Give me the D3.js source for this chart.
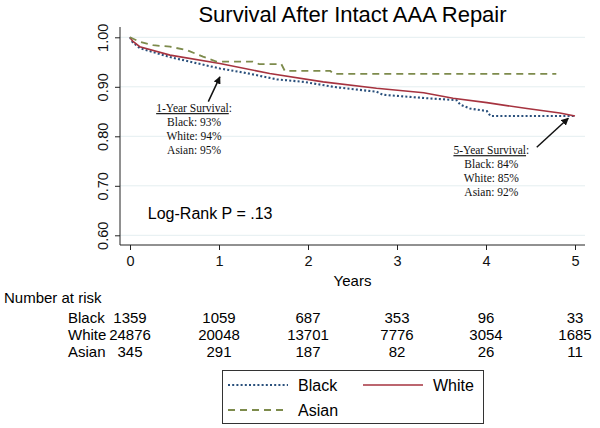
<!DOCTYPE html>
<html>
<head>
<meta charset="utf-8">
<script src="https://cdn.jsdelivr.net/npm/d3@7"></script>
<style>
  body { margin: 0; background: #fff; }
  text { font-family: "Liberation Sans", Arial, Helvetica, sans-serif; }
  .serif { font-family: "Liberation Serif", "Times New Roman", serif; }
</style>
</head>
<body>
<div id="chart"></div>
<script>
// data
const years = [0, 1, 2, 3, 4, 5];
const yTicks = [0.6, 0.7, 0.8, 0.9, 1.0];
const groups = ["Black", "White", "Asian"];

const riskBlack = [1359, 1059, 687, 353, 96, 33];
const riskWhite = [24876, 20048, 13701, 7776, 3054, 1685];
const riskAsian = [345, 291, 187, 82, 26, 11];

const blackT = [0, 0.03, 0.11, 0.45, 1.01, 1.3, 1.65, 1.95, 2.32, 2.77, 2.84, 3.33, 3.67, 3.71, 3.82, 4.01, 4.05, 5.0];
const blackS = [1.0, 0.99, 0.978, 0.960, 0.937, 0.928, 0.915, 0.910, 0.899, 0.890, 0.884, 0.877, 0.873, 0.864, 0.856, 0.851, 0.841, 0.841];

const whiteT = [0, 0.03, 0.11, 0.45, 1.01, 1.57, 2.17, 2.77, 3.3, 3.63, 4.01, 4.46, 4.83, 5.0];
const whiteS = [1.0, 0.992, 0.981, 0.964, 0.947, 0.927, 0.910, 0.897, 0.888, 0.877, 0.868, 0.856, 0.847, 0.841];

const asianT = [0, 0.11, 0.26, 0.45, 0.64, 0.82, 0.97, 1.38, 1.45, 1.70, 1.74, 2.25, 2.29, 4.79];
const asianS = [1.0, 0.991, 0.984, 0.981, 0.974, 0.961, 0.951, 0.951, 0.946, 0.946, 0.932, 0.932, 0.926, 0.926];

const oneYearText = ["Black: 93%", "White: 94%", "Asian: 95%"];
const fiveYearText = ["Black: 84%", "White: 85%", "Asian: 92%"];

const width = 600, height = 428;
const plot = { left: 120, right: 585, top: 27, bottom: 245 };

const svg = d3.select("#chart").append("svg")
    .attr("width", width)
    .attr("height", height);

const x = d3.scaleLinear().domain([0, 5]).range([130, 575]);
const y = d3.scaleLinear().domain([0.6, 1.0]).range([235.3, 37.3]);

const colors = { Black: "#2a507c", White: "#a6333f", Asian: "#7d8b4c" };
const dashes = { Black: "2,2.2", White: null, Asian: "7,5" };
const widths = { Black: 2.1, White: 1.6, Asian: 1.8 };

// gridlines
svg.append("g")
  .selectAll("line")
  .data(yTicks)
  .join("line")
    .attr("x1", plot.left).attr("x2", plot.right)
    .attr("y1", d => y(d)).attr("y2", d => y(d))
    .attr("stroke", "#e4eef0")
    .attr("stroke-width", 1);

// axes
const yAxis = svg.append("g")
    .attr("transform", `translate(${plot.left},0)`)
    .call(d3.axisLeft(y).tickValues(yTicks).tickFormat(d3.format(".2f")).tickSize(5))
    .call(g => g.select(".domain").remove());
yAxis.selectAll(".tick line").attr("stroke", "#222");
yAxis.selectAll(".tick text")
    .attr("x", null).attr("dy", null)
    .attr("transform", "translate(-12,0) rotate(-90)")
    .attr("text-anchor", "middle")
    .attr("font-size", 14.5)
    .attr("fill", "#111")
    .style("font-family", "'Liberation Sans', Arial, sans-serif");

const xAxis = svg.append("g")
    .attr("transform", `translate(0,${plot.bottom})`)
    .call(d3.axisBottom(x).tickValues(years).tickFormat(d3.format("d")).tickSize(5))
    .call(g => g.select(".domain").remove());
xAxis.selectAll(".tick line").attr("stroke", "#222");
xAxis.selectAll(".tick text")
    .attr("y", 11)
    .attr("font-size", 14.5)
    .attr("fill", "#111")
    .style("font-family", "'Liberation Sans', Arial, sans-serif");

svg.append("line")
    .attr("x1", plot.left).attr("x2", plot.left)
    .attr("y1", plot.top).attr("y2", plot.bottom)
    .attr("stroke", "#222").attr("stroke-width", 1);
svg.append("line")
    .attr("x1", plot.left).attr("x2", plot.right)
    .attr("y1", plot.bottom).attr("y2", plot.bottom)
    .attr("stroke", "#222").attr("stroke-width", 1);

svg.append("text")
    .attr("x", (plot.left + plot.right) / 2)
    .attr("y", 286)
    .attr("text-anchor", "middle")
    .attr("font-size", 15)
    .text("Years");

// title
svg.append("text")
    .attr("x", (plot.left + plot.right) / 2)
    .attr("y", 22)
    .attr("text-anchor", "middle")
    .attr("font-size", 22)
    .text("Survival After Intact AAA Repair");

// survival curves
const series = [
  { key: "Black", values: blackT.map((t, i) => ({ t, s: blackS[i] })) },
  { key: "White", values: whiteT.map((t, i) => ({ t, s: whiteS[i] })) },
  { key: "Asian", values: asianT.map((t, i) => ({ t, s: asianS[i] })) }
];

const line = d3.line()
    .x(d => x(d.t))
    .y(d => y(d.s));

svg.append("g")
  .selectAll("path")
  .data(series)
  .join("path")
    .attr("fill", "none")
    .attr("stroke", d => colors[d.key])
    .attr("stroke-width", d => widths[d.key])
    .attr("stroke-dasharray", d => dashes[d.key])
    .attr("d", d => line(d.values));

// annotations
svg.append("defs").append("marker")
    .attr("id", "arrow")
    .attr("viewBox", "0 0 10 10")
    .attr("refX", 9).attr("refY", 5)
    .attr("markerWidth", 5).attr("markerHeight", 5)
    .attr("orient", "auto")
  .append("path")
    .attr("d", "M0,0 L10,5 L0,10 z")
    .attr("fill", "#111");

const arrows = [
  { from: [0.88, 0.870], to: [1.01, 0.920] },
  { from: [4.57, 0.778], to: [4.925, 0.8364] }
];
svg.append("g")
  .selectAll("line")
  .data(arrows)
  .join("line")
    .attr("x1", d => x(d.from[0])).attr("y1", d => y(d.from[1]))
    .attr("x2", d => x(d.to[0])).attr("y2", d => y(d.to[1]))
    .attr("stroke", "#111")
    .attr("stroke-width", 1.5)
    .attr("marker-end", "url(#arrow)");

function survivalNote(cx, cy, head, lines) {
  const g = svg.append("g").attr("class", "serif");
  const t = g.append("text")
      .attr("class", "serif")
      .attr("x", x(cx)).attr("y", y(cy) + 4)
      .attr("text-anchor", "middle")
      .attr("font-size", 11.5)
      .attr("fill", "#111");
  t.append("tspan").style("text-decoration", "underline").text(head);
  t.append("tspan").text(":");
  g.selectAll("text.row")
    .data(lines)
    .join("text")
      .attr("class", "row serif")
      .attr("x", x(cx))
      .attr("y", (d, i) => y(cy) + 4 + 14 * (i + 1))
      .attr("text-anchor", "middle")
      .attr("font-size", 11.5)
      .attr("fill", "#111")
      .text(d => d);
}
survivalNote(0.72, 0.857, "1-Year Survival", oneYearText);
survivalNote(4.06, 0.772, "5-Year Survival", fiveYearText);

svg.append("text")
    .attr("x", x(0.2))
    .attr("y", y(0.645) + 6)
    .attr("font-size", 16)
    .text("Log-Rank P = .13");

// number at risk table
svg.append("text")
    .attr("x", 4).attr("y", 303)
    .attr("font-size", 15)
    .text("Number at risk");

const riskRows = [
  { key: "Black", values: riskBlack },
  { key: "White", values: riskWhite },
  { key: "Asian", values: riskAsian }
];
const rowY = d3.scalePoint().domain(groups).range([323, 357]);

const rows = svg.append("g")
  .selectAll("g")
  .data(riskRows)
  .join("g")
    .attr("transform", d => `translate(0,${rowY(d.key)})`);
rows.append("text")
    .attr("x", 68)
    .attr("font-size", 15)
    .text(d => d.key);
rows.selectAll("text.n")
  .data(d => d.values)
  .join("text")
    .attr("class", "n")
    .attr("x", (d, i) => x(years[i]))
    .attr("text-anchor", "middle")
    .attr("font-size", 15)
    .text(d => d);

// legend
const legend = svg.append("g");
legend.append("rect")
    .attr("x", 222.5).attr("y", 370.5)
    .attr("width", 261).attr("height", 53)
    .attr("fill", "#fff")
    .attr("stroke", "#333")
    .attr("stroke-width", 1);
const legendPos = [
  { key: "Black", x: 228, y: 385 },
  { key: "White", x: 363, y: 385 },
  { key: "Asian", x: 228, y: 410 }
];
const items = legend.selectAll("g.item")
  .data(legendPos)
  .join("g")
    .attr("class", "item")
    .attr("transform", d => `translate(${d.x},${d.y})`);
items.append("line")
    .attr("x1", 0).attr("x2", 60)
    .attr("stroke", d => colors[d.key])
    .attr("stroke-width", d => widths[d.key])
    .attr("stroke-dasharray", d => dashes[d.key]);
items.append("text")
    .attr("x", 70).attr("y", 6)
    .attr("font-size", 16)
    .text(d => d.key);
</script>
</body>
</html>
